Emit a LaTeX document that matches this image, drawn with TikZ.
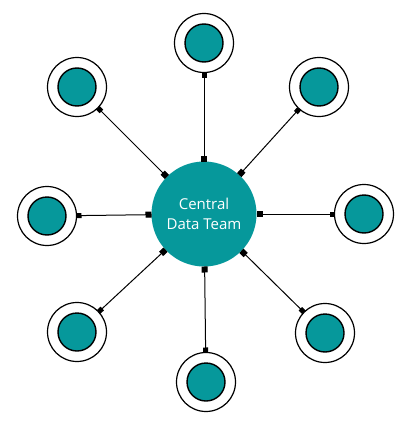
\documentclass[tikz,border=0pt]{standalone}
\usepackage{fontspec}
\newfontfamily\labelfont{Open Sans}
\usetikzlibrary{arrows.meta}
\definecolor{teal}{RGB}{6,152,155}
\begin{document}
\begin{tikzpicture}[x=1pt,y=-1pt,
	hub/.style={circle, fill = teal, minimum size = 105pt, inner sep = 0pt, outer sep = 0pt,
		text = white, align = center, font = \labelfont\fontsize{15}{20}\selectfont},
	ring/.style={circle, draw, line width = 1.2pt, fill = white, minimum size = 59pt, inner sep = 0pt, outer sep = 0pt},
	dot/.style={circle, draw, line width = 1.4pt, fill = teal, minimum size = 38pt, inner sep = 0pt},
	link/.style={line width = 1pt, {Square[length=5pt,width=5pt]}-{Square[length=6pt,width=6pt]}}]
	\useasboundingbox (0,0) rectangle (404,428);
	\node (C) at (204,214)	[hub]	{Central\\Data Team};
	\node (S1) at (204, 43)	[ring]	{};
	\node (S2) at (319, 87)	[ring]	{};
	\node (S3) at (364,214)	[ring]	{};
	\node (S4) at (325,333)	[ring]	{};
	\node (S5) at (206,382)	[ring]	{};
	\node (S6) at ( 77,332)	[ring]	{};
	\node (S7) at ( 47,216)	[ring]	{};
	\node (S8) at ( 77, 87)	[ring]	{};
	\foreach \i in {1,...,8} {
		\node (D\i) at (S\i) [dot] {};
		\draw[link] (S\i) -- (C);
	}
\end{tikzpicture}
\end{document}
